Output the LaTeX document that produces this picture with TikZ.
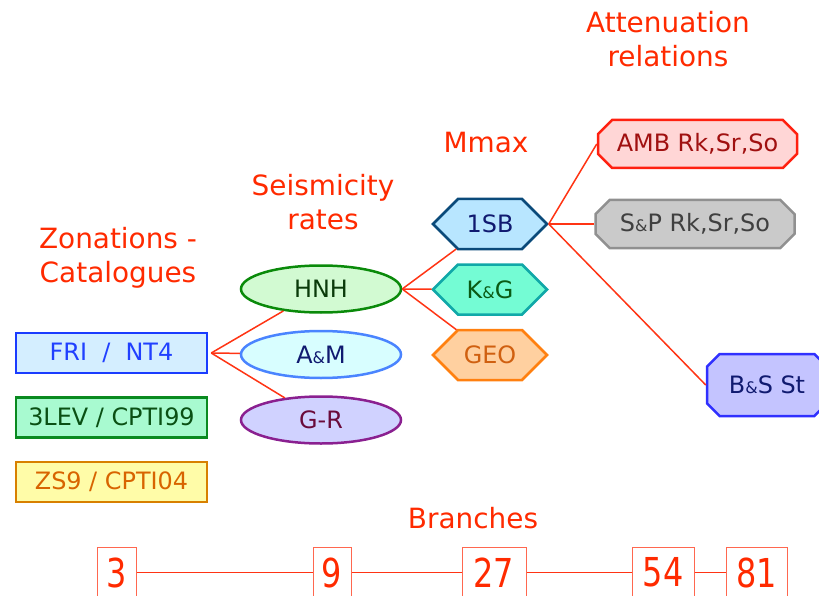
\documentclass[tikz,border=0pt]{standalone}
\usepackage{fontspec}
\setmainfont{DejaVu Sans}
\usepackage{graphicx}
\usetikzlibrary{shapes,shapes.misc,shapes.symbols,positioning}

\definecolor{headred}{HTML}{FF2A00}
\definecolor{linkred}{HTML}{FF3414}
\newcommand{\smallamp}{{\fontsize{16}{16}\selectfont\&}}
\newcommand{\branchnum}[1]{\scalebox{0.8}[1]{#1}}

\begin{document}
\begin{tikzpicture}[x=1bp, y=-1bp,
    head/.style={text=headred, align=center, font=\fontsize{28}{34}\selectfont},
    txt/.style={font=\fontsize{24}{28}\selectfont, inner sep=0pt},
    zone/.style={txt, draw, rectangle, line width=2.5bp, minimum width=191bp, minimum height=40bp},
    rate/.style={txt, draw, ellipse, line width=2.5bp, minimum width=160bp, minimum height=47bp},
    mmax/.style={txt, draw, signal, signal to=east and west, line width=2.5bp, minimum width=114bp, minimum height=50bp},
    atten/.style={txt, draw, chamfered rectangle, line width=2.5bp, minimum width=199bp, minimum height=48bp,
        chamfered rectangle xsep=11bp},
    link/.style={linkred, line width=1.5bp},
    branch/.style={draw=linkred!75, line width=1bp, text=headred, inner sep=0pt, minimum height=50bp, anchor=north,
        font=\fontsize{40}{40}\selectfont}]
    \useasboundingbox (0,0) rectangle (819,596);

    % column titles
    \node [head] (zonhead) at (118,258) {Zonations -\\Catalogues};
    \node [head] (seishead) at (323,202) {Seismicity\\rates};
    \node [head] (mmaxhead) at (486,143) {Mmax};
    \node [head] (attenhead) at (668,39) {Attenuation\\relations};
    \node [head] (branchhead) at (473,518) {Branches};

    % zonations and catalogues
    \node [zone, draw={rgb,255:red,26;green,60;blue,255}, fill={rgb,255:red,212;green,238;blue,255},
        text={rgb,255:red,32;green,64;blue,255}] (fri) at (111.5,353) {FRI \ / \ NT4};
    \node [zone, below=22bp of fri, draw={rgb,255:red,10;green,138;blue,32}, fill={rgb,255:red,168;green,250;blue,208},
        text={rgb,255:red,10;green,80;blue,20}] (lev) {3LEV / CPTI99};
    \node [zone, below=22bp of lev, draw={rgb,255:red,216;green,128;blue,0}, fill={rgb,255:red,255;green,252;blue,168},
        text={rgb,255:red,216;green,100;blue,0}] (zs) {ZS9 / CPTI04};

    % seismicity rates
    \node [rate, draw={rgb,255:red,10;green,138;blue,10}, fill={rgb,255:red,210;green,250;blue,210},
        text={rgb,255:red,10;green,58;blue,10}] (hnh) at (321,289) {HNH};
    \node [rate, below=16bp of hnh, draw={rgb,255:red,74;green,132;blue,255}, fill={rgb,255:red,216;green,254;blue,255},
        text={rgb,255:red,16;green,26;blue,112}] (am) {A\smallamp M};
    \node [rate, below=16bp of am, draw={rgb,255:red,138;green,32;blue,144}, fill={rgb,255:red,208;green,210;blue,255},
        text={rgb,255:red,106;green,10;blue,58}] (gr) {G-R};

    % maximum magnitude
    \node [mmax, draw={rgb,255:red,10;green,74;blue,122}, fill={rgb,255:red,184;green,230;blue,255},
        text={rgb,255:red,16;green,26;blue,112}] (sb) at (490,224) {1SB};
    \node [mmax, below=13bp of sb, draw={rgb,255:red,16;green,168;blue,168}, fill={rgb,255:red,116;green,252;blue,212},
        text={rgb,255:red,10;green,90;blue,20}] (kg) {K\smallamp G};
    \node [mmax, below=13bp of kg, draw={rgb,255:red,255;green,128;blue,16}, fill={rgb,255:red,255;green,208;blue,160},
        text={rgb,255:red,208;green,96;blue,16}] (geo) {GEO};

    % attenuation relations
    \node [atten, draw={rgb,255:red,255;green,32;blue,16}, fill={rgb,255:red,255;green,214;blue,214},
        text={rgb,255:red,160;green,16;blue,16}] (amb) at (697.5,144) {AMB Rk,Sr,So};
    \node [atten, draw={rgb,255:red,144;green,144;blue,144}, fill={rgb,255:red,202;green,202;blue,202},
        text={rgb,255:red,64;green,64;blue,64}] (sp) at (695,224) {S\smallamp P Rk,Sr,So};
    \node [atten, draw={rgb,255:red,48;green,48;blue,255}, fill={rgb,255:red,196;green,196;blue,255},
        text={rgb,255:red,16;green,26;blue,112}, minimum width=120bp, minimum height=62bp,
        chamfered rectangle xsep=19bp] (bs) at (767,385) {B\smallamp S St};

    % tree branches
    \coordinate (fork) at ([xshift=3bp]fri.east);
    \draw [link] (fork) -- (hnh);
    \draw [link] (fork) -- (am);
    \draw [link] (fork) -- (gr);
    \draw [link] (hnh.east) -- (sb);
    \draw [link] (hnh.east) -- (kg);
    \draw [link] (hnh.east) -- (geo);
    \draw [link] (sb.east) -- (amb.west);
    \draw [link] (sb.east) -- (sp.west);
    \draw [link] (sb.east) -- (bs.west);

    % number of branches
    \node [branch, minimum width=39bp] (n3) at (116.5,547) {\branchnum{3}};
    \node [branch, minimum width=38bp] (n9) at (332,547) {\branchnum{9}};
    \node [branch, minimum width=64bp] (n27) at (494,547) {\branchnum{27}};
    \node [branch, minimum width=62bp] (n54) at (663,547) {\branchnum{54}};
    \node [branch, minimum width=61bp] (n81) at (756.5,547) {\branchnum{81}};
    \draw [link] (n3) -- (n9);
    \draw [link] (n9) -- (n27);
    \draw [link] (n27) -- (n54);
    \draw [link] (n54) -- (n81);
\end{tikzpicture}
\end{document}
